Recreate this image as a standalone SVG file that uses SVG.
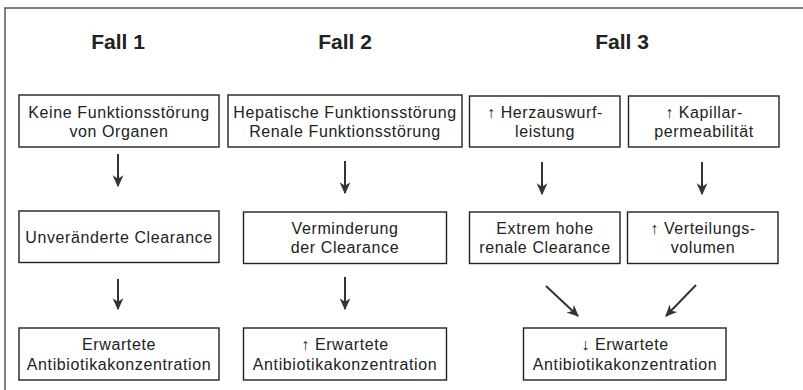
<svg xmlns="http://www.w3.org/2000/svg" width="803" height="390" viewBox="0 0 803 390">
<style>
  .frame { fill: none; stroke: #555; stroke-width: 1.5; }
  .box { fill: #fff; stroke: #222; stroke-width: 1.4; }
  .t { font-family: "Liberation Sans", Arial, sans-serif; font-size: 16px; letter-spacing: 0.6px; fill: #222; text-anchor: middle; }
  .h { font-family: "Liberation Sans", Arial, sans-serif; font-size: 21px; font-weight: bold; fill: #222; text-anchor: middle; }
  .arr { stroke: #333; stroke-width: 2; fill: none; marker-end: url(#ah); }
</style>
<defs>
  <marker id="ah" viewBox="0 0 10 10" refX="9" refY="5" markerWidth="6" markerHeight="6" orient="auto" markerUnits="strokeWidth">
    <path d="M0,0.5 L10,5 L0,9.5 L3,5 Z" fill="#333"/>
  </marker>
</defs>
<rect width="803" height="390" fill="#fff"/>
<path class="frame" d="M5,400 L5,8 L810,8"/>

<text class="h" x="118" y="49">Fall 1</text>
<text class="h" x="345" y="49">Fall 2</text>
<text class="h" x="622" y="49">Fall 3</text>

<g id="n1a"><rect class="box" x="19" y="95" width="200" height="52"/>
<text class="t" x="119" y="118">Keine Funktionsstörung</text><text class="t" x="119" y="137">von Organen</text></g>
<g id="n2a"><rect class="box" x="228" y="95" width="234" height="52"/>
<text class="t" x="345" y="118">Hepatische Funktionsstörung</text><text class="t" x="345" y="137">Renale Funktionsstörung</text></g>
<g id="n3a"><rect class="box" x="469.5" y="96" width="150.5" height="51"/>
<text class="t" x="545" y="118">↑ Herzauswurf-</text><text class="t" x="545" y="137">leistung</text></g>
<g id="n4a"><rect class="box" x="628.5" y="96" width="150.5" height="51"/>
<text class="t" x="704" y="118">↑ Kapillar-</text><text class="t" x="704" y="137">permeabilität</text></g>

<g id="n1b"><rect class="box" x="19" y="211" width="200" height="51.5"/>
<text class="t" x="119" y="243">Unveränderte Clearance</text></g>
<g id="n2b"><rect class="box" x="243.5" y="212" width="203" height="51.5"/>
<text class="t" x="345" y="233.5">Verminderung</text><text class="t" x="345" y="253">der Clearance</text></g>
<g id="n3b"><rect class="box" x="469.5" y="212" width="150.5" height="51.5"/>
<text class="t" x="545" y="233.5">Extrem hohe</text><text class="t" x="545" y="253">renale Clearance</text></g>
<g id="n4b"><rect class="box" x="627.5" y="212" width="150.5" height="51.5"/>
<text class="t" x="703" y="233.5">↑ Verteilungs-</text><text class="t" x="703" y="253">volumen</text></g>

<g id="n1c"><rect class="box" x="19" y="328" width="200" height="52"/>
<text class="t" x="119" y="350">Erwartete</text><text class="t" x="119" y="370">Antibiotikakonzentration</text></g>
<g id="n2c"><rect class="box" x="243.5" y="328" width="203" height="52"/>
<text class="t" x="345" y="350">↑ Erwartete</text><text class="t" x="345" y="370">Antibiotikakonzentration</text></g>
<g id="n3c"><rect class="box" x="523.5" y="328" width="202.5" height="52"/>
<text class="t" x="625" y="350">↓ Erwartete</text><text class="t" x="625" y="370">Antibiotikakonzentration</text></g>

<g id="connectors">
  <line class="arr" x1="118" y1="154" x2="118" y2="186"/>
  <line class="arr" x1="345" y1="161" x2="345" y2="193"/>
  <line class="arr" x1="542" y1="162" x2="542" y2="194"/>
  <line class="arr" x1="702" y1="162" x2="702" y2="194"/>
  <line class="arr" x1="118" y1="279" x2="118" y2="309"/>
  <line class="arr" x1="345" y1="277" x2="345" y2="309"/>
  <line class="arr" x1="546" y1="286" x2="578" y2="316"/>
  <line class="arr" x1="696" y1="285" x2="666" y2="316"/>
</g>
</svg>
